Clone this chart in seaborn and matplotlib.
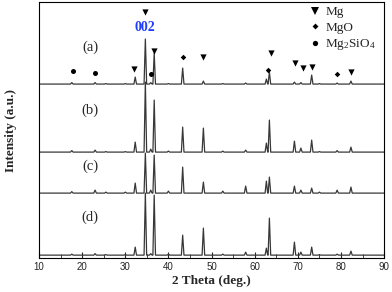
import matplotlib
matplotlib.use("Agg")
import matplotlib.pyplot as plt
from matplotlib.lines import Line2D
import seaborn as sns
import pandas as pd

# peak positions (2 theta, deg.) shared by all samples
peaks = [17.6, 23.0, 25.5, 30.0, 32.3, 34.65, 35.9, 36.7, 40.0, 43.3, 48.1, 52.6,
         57.9, 62.7, 63.4, 69.2, 70.7, 73.2, 75.0, 79.1, 82.3]
# peak heights above each baseline (a.u.)
h_a = [1.5, 1.5, 0.5, 0.5, 7, 45, 1.5, 31, 0.5, 16, 3, 0.5, 1, 5, 12, 2, 1.5, 9, 0.5, 1, 3]
h_b = [1.5, 2, 0.5, 0.5, 10, 70, 3, 52, 1, 25, 24, 1, 2, 9, 32, 11, 4, 12, 0.5, 1.5, 5]
h_c = [1.5, 3, 1, 1, 10, 40, 3, 38, 2, 26, 11, 2, 7, 12, 16, 7, 3, 5, 1, 3, 6]
h_d = [1, 1.5, 0.5, 0.5, 8, 62, 1.5, 60, 1, 20, 27, 1, 3, 7, 37, 13, 3, 8, 0.5, 1, 4]
samples = ["(a)", "(b)", "(c)", "(d)"]
offsets = [174, 106, 65, 3]
label_y = [211, 148, 92, 41]

# phase markers above trace (a)
mg_x = [32.1, 34.65, 36.7, 48.1, 63.7, 69.3, 71.2, 73.3, 82.3]
mg_y = [189, 246, 207, 201, 205, 195, 190, 191, 186]
mgo_x = [43.3, 63.0, 79.1]
mgo_y = [201, 188, 184]
si_x = [17.9, 23.0, 36.0]
si_y = [187, 185, 184]

half_w = 0.3
rows = []
for name, off, hts in zip(samples, offsets, [h_a, h_b, h_c, h_d]):
    rows.append((name, 10.0, off))
    for p, h in zip(peaks, hts):
        rows.append((name, p - half_w, off))
        rows.append((name, p, off + h))
        rows.append((name, p + half_w, off))
    rows.append((name, 90.0, off))
df = pd.DataFrame(rows, columns=["sample", "two_theta", "intensity"])

sns.set_style("ticks")
plt.rcParams["font.family"] = ["Liberation Sans", "DejaVu Sans"]
plt.rcParams["mathtext.fontset"] = "custom"
plt.rcParams["mathtext.rm"] = "Liberation Serif"
plt.rcParams["mathtext.it"] = "Liberation Serif:italic"
plt.rcParams["mathtext.bf"] = "Liberation Serif:bold"
serif = ["Liberation Serif", "DejaVu Serif"]

fig = plt.figure(figsize=(3.92, 2.92), dpi=100)
ax = fig.add_axes([0.0995, 0.116, 0.8805, 0.877])

sns.lineplot(data=df, x="two_theta", y="intensity", hue="sample", units="sample",
             estimator=None, sort=False, palette=["#383838"] * 4, linewidth=0.9,
             legend=False, ax=ax)

ax.scatter(mg_x, mg_y, marker="v", s=20, color="black", lw=0, zorder=3)
ax.scatter(mgo_x, mgo_y, marker="D", s=8, color="black", lw=0, zorder=3)
ax.scatter(si_x, si_y, marker="o", s=13, color="black", lw=0, zorder=3)

for name, yy in zip(samples, label_y):
    ax.text(21.9, yy, name, family=serif, fontsize=10.5, ha="center", va="center")
ax.text(34.65, 231, "002", family=serif, fontsize=10, fontweight="bold",
        color="#1f3fff", ha="center", va="center")

handles = [Line2D([], [], ls="", marker="v", ms=5.5, mew=0, color="black"),
           Line2D([], [], ls="", marker="D", ms=3, mew=0, color="black"),
           Line2D([], [], ls="", marker="o", ms=3.8, mew=0, color="black")]
ax.legend(handles, ["Mg", "MgO", r"Mg$_\mathrm{2}$SiO$_\mathrm{4}$"], loc="upper right",
          frameon=False, prop={"family": serif, "size": 9.5},
          handlelength=0.8, handletextpad=0.4, labelspacing=0.25,
          borderaxespad=0.1, bbox_to_anchor=(0.995, 1.01))

ax.set_xlim(10, 90)
ax.set_ylim(0, 256)
ax.set_xticks(range(10, 91, 10))
ax.set_xticks(range(15, 90, 10), minor=True)
ax.set_yticks([])
ax.tick_params(axis="x", which="both", direction="in", labelsize=7, pad=3)
ax.tick_params(axis="x", which="major", length=4)
ax.tick_params(axis="x", which="minor", length=3)
for s in ax.spines.values():
    s.set_visible(True)
    s.set_linewidth(0.8)
    s.set_color("black")

ax.set_xlabel("2 Theta (deg.)", family=serif, fontsize=9.5, fontweight="bold", labelpad=2)
ax.set_ylabel("Intensity (a.u.)", family=serif, fontsize=9.5, fontweight="bold", labelpad=16)

fig.savefig("out.png", dpi=100)
